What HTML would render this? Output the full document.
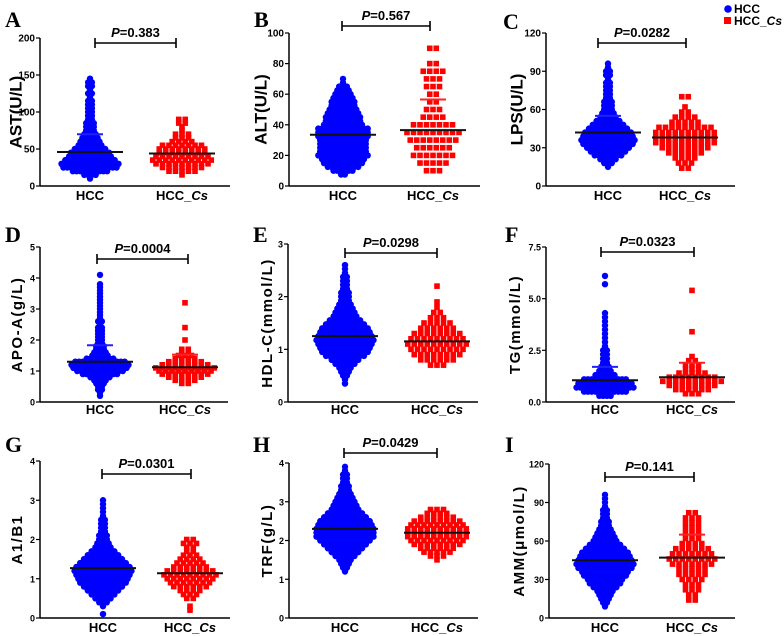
<!DOCTYPE html>
<html><head><meta charset="utf-8"><style>
body{margin:0;background:#fff;}
svg{display:block;font-family:"Liberation Sans",Arial,sans-serif;}
</style></head><body>
<svg id="fig" width="784" height="636" viewBox="0 0 784 636"></svg>
<script>
const NS="http://www.w3.org/2000/svg";
const svg=document.getElementById('fig');
// ---- data ----
const panelLetters=["A","B","C","D","E","F","G","H","I"];
const yTitles=["AST(U/L)","ALT(U/L)","LPS(U/L)","APO-A(g/L)","HDL-C(mmol/L)","TG(mmol/L)","A1/B1","TRF(g/L)","AMM(\u03bcmol/L)"];
const pValues=["0.383","0.567","0.0282","0.0004","0.0298","0.0323","0.0301","0.0429","0.141"];
const yMaxes=[200,100,120,5,3,7.5,4,4,120];
const tickLabels=[["0","50","100","150","200"],["0","20","40","60","80","100"],["0","30","60","90","120"],["0","1","2","3","4","5"],["0","1","2","3"],["0.0","2.5","5.0","7.5"],["0","1","2","3","4"],["0","1","2","3","4"],["0","30","60","90","120"]];
const hccStart=[10,7.5,15,0.2,0.35,0.3,0.1,1.2,9];
const hccStep=[5,2.5,3,0.1,0.075,0.2,0.1,0.1,3];
const hccCounts=[
[1,4,10,15,16,14,12,11,9,7,6,5,4,3,3,3,2,2,2,2,2,2,1,2,1,2,2,1],
[2,6,9,11,12,14,13,13,13,13,14,14,14,11,10,10,9,8,7,7,6,5,4,3,1,1],
[1,3,5,8,10,12,14,15,14,13,11,9,7,5,4,3,3,3,2,2,2,2,2,1,2,2,1,1],
[1,1,2,2,3,4,6,10,13,15,16,14,8,5,4,3,3,2,2,2,2,2,2,1,2,1,1,1,1,1,1,1,1,1,1,1,1,0,0,1],
[1,1,2,3,4,6,8,11,13,14,15,16,15,14,13,11,9,7,6,5,4,3,3,3,2,2,2,2,1,1,1],
[4,12,16,15,12,6,4,3,2,2,2,2,1,1,1,1,1,1,1,1,1,0,0,0,0,0,0,1,0,1],
[1,0,1,3,5,7,9,11,13,14,15,16,15,13,11,9,7,5,4,3,3,2,2,2,2,1,1,1,1,1],
[1,2,3,4,6,8,10,12,14,16,16,16,15,14,12,10,8,7,6,5,4,3,3,2,2,2,1,1],
[1,2,3,4,5,7,9,10,12,13,15,16,15,14,13,11,9,7,6,5,4,3,3,2,2,2,1,1,1,1]];
const csStart=[15,10,14,0.6,0.7,0.4,0.2,1.5,14];
const csStep=[5,5,4,0.1,0.1,0.2,0.1,0.1,4];
const csCounts=[
[1,5,7,9,10,9,8,8,7,4,3,3,1,1,2,2],
[3,5,7,6,8,9,7,4,3,2,2,3,3,4,2,0,2],
[2,3,4,6,8,10,10,10,9,5,4,2,1,0,2],
[2,4,6,8,9,10,8,6,4,3,2,2,0,0,1,0,0,0,1,0,0,0,0,0,0,0,1],
[3,6,8,9,10,9,8,6,5,3,2,1,1,0,0,1],
[3,6,8,10,8,5,3,3,2,1,0,0,0,0,0,1,0,0,0,0,0,0,0,0,0,1],
[1,1,0,2,3,4,6,7,8,9,8,6,5,4,3,2,2,3,2],
[1,3,5,6,8,9,10,10,10,9,8,6,4,3],
[2,2,3,3,4,5,5,7,8,7,6,4,3,3,3,3,3,2]];
const hccMeans=[46,33.5,42,1.3,1.25,1.05,1.27,2.3,45];
const hccSD=[70,null,55,1.83,null,1.7,null,null,null];
const csMeans=[44,36.5,38,1.12,1.15,1.2,1.14,2.2,47];
const csSD=[null,56.5,null,1.53,null,1.9,null,null,65];
// ---- layout ----
const L=[
{ax:40,y0:186,yt:38,h:90,c:182,end:230,bx1:95,bx2:176,by:43,lx:5,ly:27,tx:17,cy:200},
{ax:289,y0:186,yt:33,h:343,c:433,end:480,bx1:342,bx2:430,by:26,lx:254,ly:27,tx:262,cy:200},
{ax:546,y0:186,yt:33,h:608,c:685,end:735,bx1:598,bx2:686,by:43,lx:503,ly:29,tx:518,cy:200},
{ax:40,y0:402,yt:247,h:100,c:185,end:228,bx1:97,bx2:188,by:259,lx:5,ly:242,tx:18,cy:414},
{ax:288,y0:402,yt:244,h:345,c:437,end:478,bx1:345,bx2:437,by:253,lx:253,ly:242,tx:268,cy:414},
{ax:546,y0:402,yt:247,h:605,c:692,end:735,bx1:601,bx2:694,by:252,lx:505,ly:242,tx:516,cy:414},
{ax:40,y0:618,yt:461,h:103,c:190,end:230,bx1:102,bx2:191,by:474,lx:5,ly:452,tx:18,cy:632},
{ax:289,y0:618,yt:463,h:345,c:437,end:478,bx1:344,bx2:437,by:453,lx:253,ly:452,tx:268,cy:632},
{ax:549,y0:618,yt:464,h:605,c:692,end:735,bx1:605,bx2:694,by:477,lx:505,ly:452,tx:520,cy:632}];
function el(t,a,p){const e=document.createElementNS(NS,t);for(const k in a)e.setAttribute(k,a[k]);(p||svg).appendChild(e);return e;}
for(let i=0;i<9;i++){
  const g=L[i];
  const grp=el('g',{});
  
  
  const Y=v=>g.y0-(v/yMaxes[i])*(g.y0-g.yt);
  hccCounts[i].forEach((n,k)=>{const v=hccStart[i]+k*hccStep[i];
    for(let j=0;j<n;j++){const d=el('circle',{cx:g.h+(j-(n-1)/2)*3.8,cy:Y(v),r:3.2,fill:'#0000ff'},grp);
      
      }});
  csCounts[i].forEach((n,k)=>{const v=csStart[i]+k*csStep[i];
    for(let j=0;j<n;j++){const d=el('rect',{x:g.c+(j-(n-1)/2)*6.5-2.8,y:Y(v)-2.8,width:5.6,height:5.6,fill:'#ff0000'},grp);
      
      }});
  const m1=el('line',{x1:g.h-33,x2:g.h+33,y1:Y(hccMeans[i]),y2:Y(hccMeans[i]),stroke:'#111','stroke-width':2},grp);
  
  
  const m2=el('line',{x1:g.c-33,x2:g.c+33,y1:Y(csMeans[i]),y2:Y(csMeans[i]),stroke:'#111','stroke-width':2},grp);
  
  
  if(hccSD[i]!==null){const s=el('line',{x1:g.h-13,x2:g.h+13,y1:Y(hccSD[i]),y2:Y(hccSD[i]),stroke:'#2020ff','stroke-width':2},grp);
    
    }
  if(csSD[i]!==null){const s=el('line',{x1:g.c-13,x2:g.c+13,y1:Y(csSD[i]),y2:Y(csSD[i]),stroke:'#ff2020','stroke-width':2},grp);
    
    }
  const ya=el('line',{x1:g.ax,x2:g.ax,y1:g.yt,y2:g.y0,stroke:'#000','stroke-width':1.5},grp);
  
  
  const xa=el('line',{x1:g.ax,x2:g.end,y1:g.y0,y2:g.y0,stroke:'#000','stroke-width':1.5},grp);
  
  
  tickLabels[i].forEach(t=>{const y=Y(parseFloat(t));
    el('line',{x1:g.ax-4,x2:g.ax,y1:y,y2:y,stroke:'#000','stroke-width':1.2},grp);
    const tl=el('text',{x:g.ax-5,y:y+3.5,'text-anchor':'end','font-size':i<3?10:9,'font-weight':'bold'},grp);
    tl.textContent=t;
    
    });
  const c1=el('text',{x:g.h,y:g.cy,'text-anchor':'middle','font-size':13,'font-weight':'bold'},grp);c1.textContent='HCC';
  
  
  const c2=el('text',{x:g.c,y:g.cy,'text-anchor':'middle','font-size':13,'font-weight':'bold'},grp);
  c2.innerHTML='HCC_<tspan font-style="italic">Cs</tspan>';
  
  
  const br=el('path',{d:`M${g.bx1},${g.by-5}V${g.by+5}M${g.bx1},${g.by}H${g.bx2}M${g.bx2},${g.by-5}V${g.by+5}`,stroke:'#000','stroke-width':1.6,fill:'none'},grp);
  
  
  const pt=el('text',{x:(g.bx1+g.bx2)/2,y:g.by-6,'text-anchor':'middle','font-size':13,'font-weight':'bold'},grp);
  pt.innerHTML='<tspan font-style="italic">P</tspan>='+pValues[i];
  
  
  const lt=el('text',{x:g.lx,y:g.ly,'font-size':22,'font-weight':'bold','font-family':'Liberation Serif,serif'},grp);
  lt.textContent=panelLetters[i];
  
  
  const ty=(g.yt+g.y0)/2;
  const yt=el('text',{x:g.tx,y:ty,'text-anchor':'middle','font-size':i<3?17:15,'font-weight':'bold','letter-spacing':i<3?0:1.5,transform:`rotate(-90 ${g.tx} ${ty})`,'dominant-baseline':'middle'},grp);
  yt.textContent=yTitles[i];
  
  
}
const lg=el('g',{});


el('circle',{cx:728,cy:9,r:3.8,fill:'#0000ff'},lg);
const la=el('text',{x:734,y:13,'font-size':12,'font-weight':'bold'},lg);la.textContent='HCC';


el('rect',{x:724,y:17,width:7,height:7,fill:'#ff0000'},lg);
const lb=el('text',{x:734,y:25,'font-size':12,'font-weight':'bold'},lg);lb.innerHTML='HCC_<tspan font-style="italic">Cs</tspan>';


</script>
</body></html>
